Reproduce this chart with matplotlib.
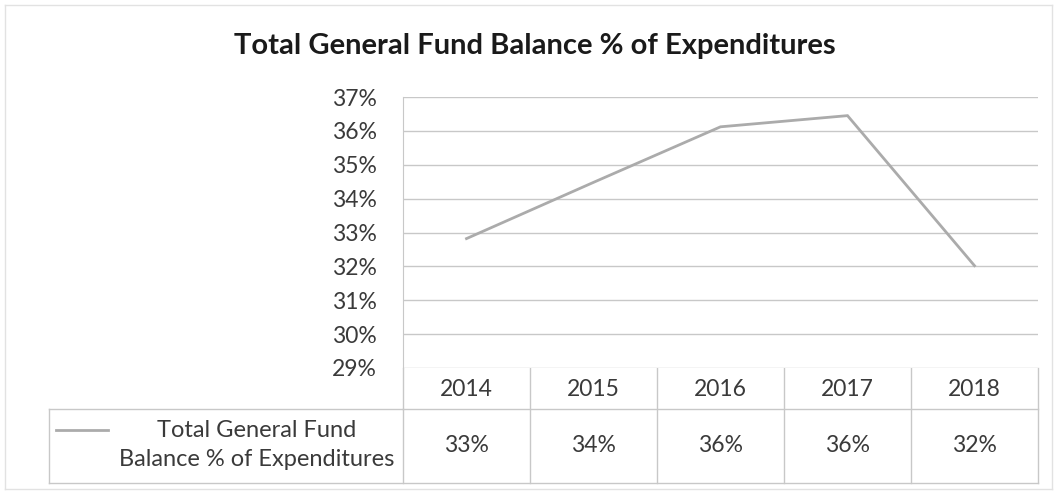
import matplotlib
matplotlib.use("Agg")
import matplotlib.pyplot as plt
from matplotlib.lines import Line2D

years = ["2014", "2015", "2016", "2017", "2018"]
values = [32.82, 34.48, 36.12, 36.45, 32.02]
yticks = [29, 30, 31, 32, 33, 34, 35, 36, 37]
series_name = "Total General Fund\nBalance % of Expenditures"
title = "Total General Fund Balance % of Expenditures"

W, H = 1058, 493
fig = plt.figure(figsize=(W / 100, H / 100), dpi=100)
fig.patch.set_facecolor("white")

FONT = "Lato"
TXT = "#3a3a3a"
GRID = "#c8c8c8"
LINE = "#ababab"

# plot area in pixels
L, R, T, B = 403, 1038, 97, 368
ax = fig.add_axes([L / W, 1 - B / H, (R - L) / W, (B - T) / H])
n = len(years)
ax.plot(range(n), values, color=LINE, lw=2.0, solid_joinstyle="miter")
ax.set_xlim(-0.5, n - 0.5)
ax.set_ylim(yticks[0], yticks[-1])
ax.set_yticks(yticks)
ax.set_yticklabels([f"{t}%" for t in yticks], fontsize=16.5, color=TXT, family=FONT)
ax.set_xticks([])
ax.tick_params(axis="y", length=0, pad=19)
ax.grid(axis="y", color=GRID, lw=1)
for s in ["top", "right", "bottom"]:
    ax.spines[s].set_visible(False)
ax.spines["left"].set_color(GRID)
ax.set_axisbelow(True)

# overlay in pixel coords
ov = fig.add_axes([0, 0, 1, 1], zorder=-1)
ov.set_xlim(0, W)
ov.set_ylim(H, 0)
ov.axis("off")

def hl(x0, x1, y, c=GRID):
    ov.add_line(Line2D([x0, x1], [y, y], color=c, lw=1))

def vl(x, y0, y1, c=GRID):
    ov.add_line(Line2D([x, x], [y0, y1], color=c, lw=1))

# outer chart border
bc = "#e2e2e2"
hl(5, 1052, 5, bc); hl(5, 1052, 489, bc)
vl(5, 5, 489, bc); vl(1052, 5, 489, bc)

# title
ov.text(535, 46, title, ha="center", va="center", fontsize=21,
        fontweight="bold", color="#1a1a1a", family=FONT)

# data table
TL, HB, TB = 49, 409, 483
cw = (R - L) / n
hl(L, R, HB)
hl(TL, R, TB)
hl(TL, L, HB)
vl(TL, HB, TB)
for i in range(n + 1):
    vl(L + i * cw, B, TB)
for i, (yr, v) in enumerate(zip(years, values)):
    cx = L + (i + 0.5) * cw
    ov.text(cx, 389, yr, ha="center", va="center", fontsize=16.5, color=TXT, family=FONT)
    ov.text(cx, 446, f"{round(v):d}%", ha="center", va="center", fontsize=16.5,
            color=TXT, family=FONT)
ov.add_line(Line2D([56, 108], [430, 430], color=LINE, lw=2))
ov.text(257, 445, series_name, ha="center", va="center", fontsize=17, color=TXT,
        family=FONT, multialignment="center", linespacing=1.5)

fig.savefig("out.png", dpi=100, facecolor="white")
